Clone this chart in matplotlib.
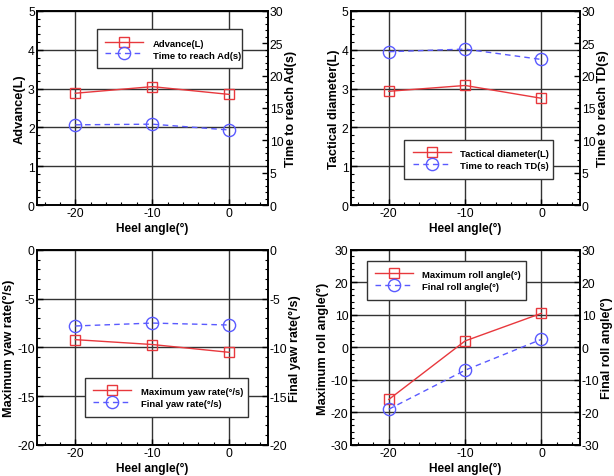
import matplotlib
matplotlib.use("Agg")
import matplotlib.pyplot as plt
from matplotlib.ticker import MultipleLocator

plt.rcParams['font.family'] = ['Liberation Sans', 'DejaVu Sans']
plt.rcParams['axes.unicode_minus'] = False

heel = [-20, -10, 0]

advance = [2.88, 3.05, 2.85]
time_ad = [12.4, 12.5, 11.6]

tactical = [2.93, 3.08, 2.75]
time_td = [23.7, 24.1, 22.5]

max_yaw = [-9.2, -9.7, -10.5]
final_yaw = [-7.8, -7.5, -7.7]

max_roll = [-16.0, 2.0, 10.5]
final_roll = [-19.0, -7.0, 2.5]

RED = '#e8383d'
BLUE = '#5a5aff'

fig = plt.figure(figsize=(6.14, 4.77), dpi=100)

panels = [
    dict(pos=[0.060, 0.568, 0.376, 0.407], y1=advance, y2=time_ad,
         l1='Advance(L)', l2='Time to reach Ad(s)',
         yl='Advance(L)', yr='Time to reach Ad(s)',
         lim1=(0, 5), maj1=1, min1=0.2, lim2=(0, 30), maj2=5, min2=1,
         leg=(0.26, 0.706, 0.628, 0.212)),
    dict(pos=[0.571, 0.568, 0.373, 0.407], y1=tactical, y2=time_td,
         l1='Tactical diameter(L)', l2='Time to reach TD(s)',
         yl='Tactical diameter(L)', yr='Time to reach TD(s)',
         lim1=(0, 5), maj1=1, min1=0.2, lim2=(0, 30), maj2=5, min2=1,
         leg=(0.235, 0.135, 0.65, 0.215)),
    dict(pos=[0.060, 0.065, 0.376, 0.409], y1=max_yaw, y2=final_yaw,
         l1='Maximum yaw rate(\u00b0/s)', l2='Final yaw rate(\u00b0/s)',
         yl='Maximum yaw rate(\u00b0/s)', yr='Final yaw rate(\u00b0/s)',
         lim1=(-20, 0), maj1=5, min1=1, lim2=(-20, 0), maj2=5, min2=1,
         leg=(0.208, 0.145, 0.705, 0.215)),
    dict(pos=[0.571, 0.065, 0.373, 0.409], y1=max_roll, y2=final_roll,
         l1='Maximum roll angle(\u00b0)', l2='Final roll angle(\u00b0)',
         yl='Maximum roll angle(\u00b0)', yr='Final roll angle(\u00b0)',
         lim1=(-30, 30), maj1=10, min1=2, lim2=(-30, 30), maj2=10, min2=2,
         leg=(0.07, 0.745, 0.695, 0.21)),
]

for p in panels:
    ax = fig.add_axes(p['pos'])
    ax2 = ax.twinx()
    ax.set_xlim(-25, 5)
    ax.set_ylim(*p['lim1'])
    ax2.set_ylim(*p['lim2'])
    ax.xaxis.set_major_locator(MultipleLocator(10))
    ax.xaxis.set_minor_locator(MultipleLocator(2))
    ax.yaxis.set_major_locator(MultipleLocator(p['maj1']))
    ax.yaxis.set_minor_locator(MultipleLocator(p['min1']))
    ax2.yaxis.set_major_locator(MultipleLocator(p['maj2']))
    ax2.yaxis.set_minor_locator(MultipleLocator(p['min2']))
    ax.grid(True, which='major', color='#333333', linewidth=1.0)
    ax.set_axisbelow(True)
    for a in (ax, ax2):
        a.tick_params(which='both', direction='in', labelsize=8.7, pad=1.5)
        a.tick_params(which='major', length=4, width=1)
        a.tick_params(which='minor', length=2.5, width=0.8)
        for s in a.spines.values():
            s.set_linewidth(1.2)
    ax.tick_params(axis='x', which='both', top=False)
    ln1, = ax.plot(heel, p['y1'], color=RED, linewidth=1.0, marker='s',
                   markersize=7.5, markerfacecolor='none', markeredgecolor=RED,
                   markeredgewidth=1.0, label=p['l1'])
    ln2, = ax2.plot(heel, p['y2'], color=BLUE, linewidth=1.0, linestyle=(0, (4, 3)),
                    marker='o', markersize=8.8, markerfacecolor='none',
                    markeredgecolor=BLUE, markeredgewidth=1.0, label=p['l2'])
    ax.set_xticks(heel)
    ax.set_xticklabels(['-20', '-10', '0'])
    ax.set_xlabel('Heel angle(\u00b0)', fontsize=8.6, fontweight='bold', labelpad=2)
    ax.set_ylabel(p['yl'], fontsize=9.2, fontweight='bold', labelpad=1.5)
    ax2.set_ylabel(p['yr'], fontsize=9.0, fontweight='bold', labelpad=1)
    leg = ax.legend(handles=[ln1, ln2], loc='lower left',
                    bbox_to_anchor=p['leg'], mode='expand', fancybox=False,
                    framealpha=1, edgecolor='#333333',
                    prop={'weight': 'bold', 'size': 6.8}, handlelength=4.0,
                    handleheight=1.2, borderpad=0.9, labelspacing=0.2,
                    handletextpad=1.0, borderaxespad=0)
    leg.get_frame().set_linewidth(1.0)
    leg.remove()
    ax2.add_artist(leg)

fig.savefig('out.png', dpi=100)
